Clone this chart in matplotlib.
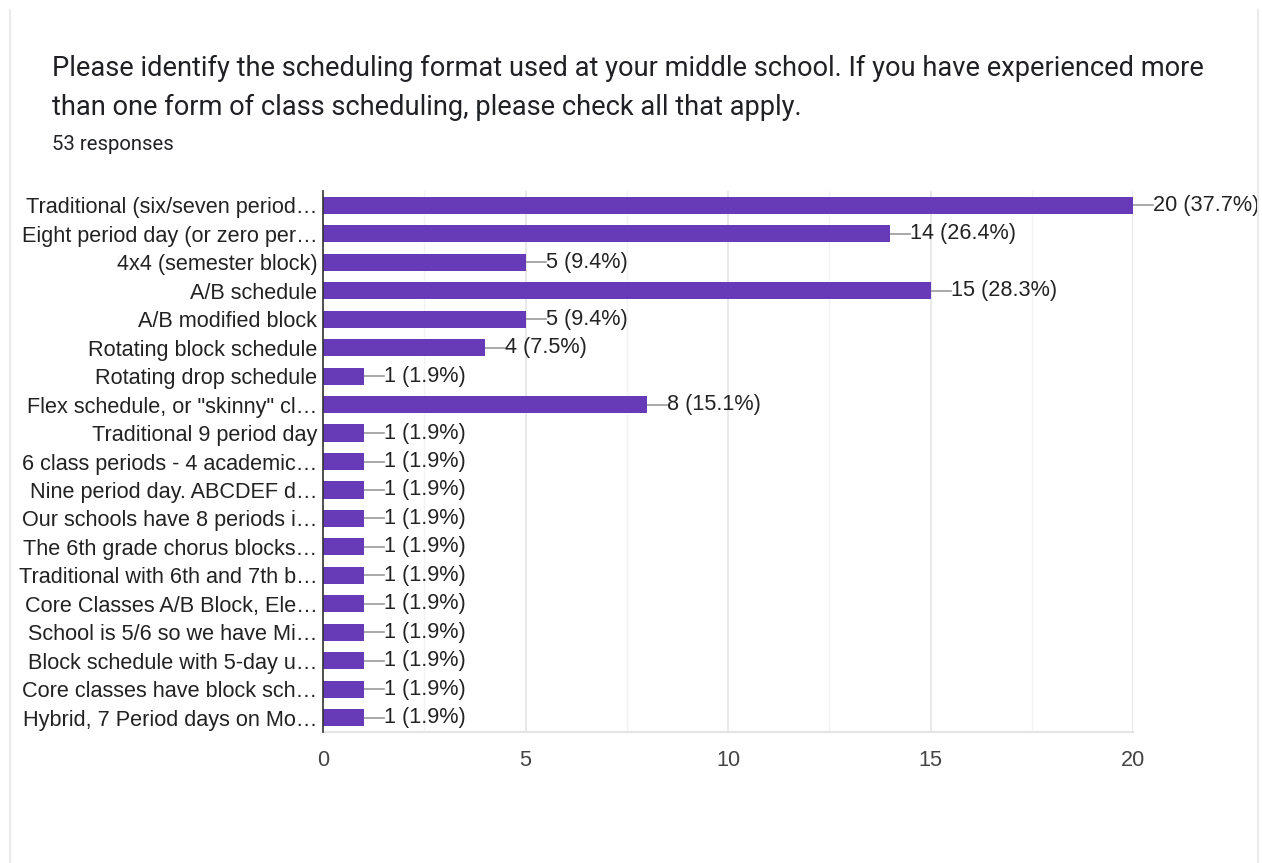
import numpy as np
import matplotlib.pyplot as plt
from matplotlib.lines import Line2D

labels = [
    'Traditional (six/seven period\u2026',
    'Eight period day (or zero per\u2026',
    '4x4 (semester block)',
    'A/B schedule',
    'A/B modified block',
    'Rotating block schedule',
    'Rotating drop schedule',
    'Flex schedule, or "skinny" cl\u2026',
    'Traditional 9 period day',
    '6 class periods - 4 academic\u2026',
    'Nine period day. ABCDEF d\u2026',
    'Our schools have 8 periods i\u2026',
    'The 6th grade chorus blocks\u2026',
    'Traditional with 6th and 7th b\u2026',
    'Core Classes A/B Block, Ele\u2026',
    'School is 5/6 so we have Mi\u2026',
    'Block schedule with 5-day u\u2026',
    'Core classes have block sch\u2026',
    'Hybrid, 7 Period days on Mo\u2026',
]
counts = [20, 14, 5, 15, 5, 4, 1, 8, 1, 1, 1, 1, 1, 1, 1, 1, 1, 1, 1]
total = 53
xticks = [0, 5, 10, 15, 20]

W, H = 1262, 863
fig = plt.figure(figsize=(W / 100, H / 100), dpi=100)
fig.patch.set_facecolor('white')

# card outline (left and right edges only)
for xe in (10, 1258):
    fig.lines.append(Line2D([xe / W, xe / W], [0, 1 - 10 / H], transform=fig.transFigure,
                            color='#ebebeb', linewidth=1.5))

fig.text(52 / W, 1 - 68 / H,
         'Please identify the scheduling format used at your middle school. If you have experienced more',
         fontsize=19.6, family='Roboto', color='#202124', va='center')
fig.text(52 / W, 1 - 107 / H,
         'than one form of class scheduling, please check all that apply.',
         fontsize=19.6, family='Roboto', color='#202124', va='center')
fig.text(52 / W, 1 - 144 / H, '53 responses', fontsize=14.6, family='Roboto',
         color='#202124', va='center')

ax = fig.add_axes([323 / W, 1 - 732 / H, (1133 - 323) / W, (732 - 191) / H])
y = np.arange(len(labels))
ax.barh(y, counts, height=0.6, color='#673ab7', zorder=3)

ax.set_xlim(0, 20)
ax.set_ylim(len(labels) - 0.5, -0.5)
ax.set_yticks(y)
ax.set_yticklabels(labels, fontsize=15.6, family='Liberation Sans', color='#222222')
ax.set_xticks(xticks)
ax.set_xticklabels([str(t) for t in xticks], fontsize=15.6, family='Liberation Sans', color='#444444')
ax.set_xticks(np.arange(2.5, 20, 5), minor=True)
ax.tick_params(axis='y', length=0, pad=4)
ax.tick_params(axis='x', which='both', length=0, pad=13)
ax.grid(axis='x', which='major', color='#e4e4e4', linewidth=1.2, zorder=0)
ax.grid(axis='x', which='minor', color='#f2f2f2', linewidth=1.0, zorder=0)

for side in ['top', 'right']:
    ax.spines[side].set_visible(False)
ax.spines['bottom'].set_color('#e4e4e4')
ax.spines['bottom'].set_linewidth(1.5)
ax.spines['left'].set_color('#333333')
ax.spines['left'].set_linewidth(1.2)
ax.spines['left'].set_zorder(4)

for yi, c in zip(y, counts):
    pct = 100 * c / total
    ax.plot([c, c + 0.5], [yi, yi], color='#999999', linewidth=1.2, zorder=2, clip_on=False)
    ax.text(c + 0.5, yi, '%d (%.1f%%)' % (c, pct), va='center', ha='left',
            fontsize=15.6, family='Liberation Sans', color='#222222', clip_on=False)

fig.savefig('out.png', dpi=100)
